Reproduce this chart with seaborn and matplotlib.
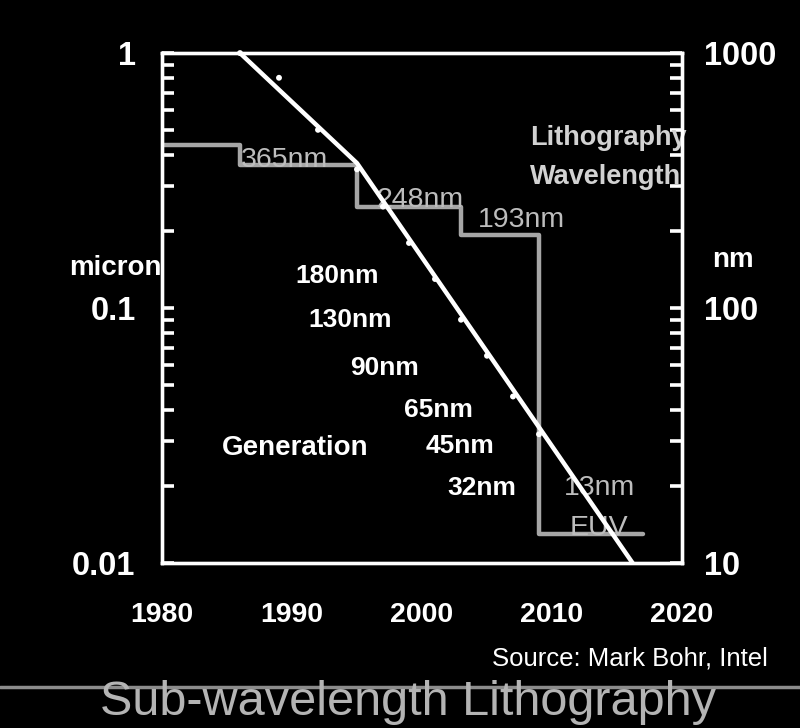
import matplotlib
matplotlib.use("Agg")
import matplotlib.pyplot as plt
import seaborn as sns
from matplotlib.ticker import LogLocator, NullFormatter
from matplotlib.lines import Line2D

# ---------------- data ----------------
fit_years = [1986, 1995, 2016.2]
fit_micron = [1.0, 0.37, 0.01]

gen_years = [1986, 1989, 1992, 1995, 1997, 1999, 2001, 2003, 2005, 2007, 2009]
gen_micron = [1.0, 0.8, 0.5, 0.35, 0.25, 0.18, 0.13, 0.09, 0.065, 0.045, 0.032]

wl_years = [1980, 1986, 1995, 2003, 2009, 2017]
wl_nm = [436, 365, 248, 193, 13, 13]

gen_labels = ["180nm", "130nm", "90nm", "65nm", "45nm", "32nm"]
wl_labels = ["365nm", "248nm", "193nm", "13nm", "EUV"]

x_ticks = [1980, 1990, 2000, 2010, 2020]
x_tick_labels = ["1980", "1990", "2000", "2010", "2020"]
left_ticks = [0.01, 0.1, 1]
left_tick_labels = ["0.01", "0.1", "1"]
right_ticks = [10, 100, 1000]
right_tick_labels = ["10", "100", "1000"]

# ---------------- layout ----------------
gen_pos = [(0.3365, 0.549), (0.3615, 0.4627), (0.4288, 0.3686),
           (0.5308, 0.2863), (0.5731, 0.2157), (0.6154, 0.1333)]
wl_pos = [(0.2365, 0.7765), (0.4962, 0.698), (0.6904, 0.6588),
          (0.8423, 0.1333), (0.8404, 0.0549)]

sns.set_theme(style="dark", rc={
    "figure.facecolor": "black",
    "axes.facecolor": "black",
    "savefig.facecolor": "black",
    "text.color": "white",
    "axes.edgecolor": "white",
    "xtick.color": "white",
    "ytick.color": "white",
    "axes.grid": False,
})
NARROW = ["Liberation Sans Narrow", "Liberation Sans", "DejaVu Sans"]
SANS = ["Liberation Sans", "DejaVu Sans"]
plt.rcParams["font.family"] = NARROW

fig = plt.figure(figsize=(8, 7.28), dpi=100)
ax = fig.add_axes([0.2025, 0.2266, 0.65, 0.7005])
ax.set_yscale("log")
ax.set_xlim(1980, 2020)
ax.set_ylim(0.01, 1)
ax2 = ax.twinx()
ax2.set_yscale("log")
ax2.set_ylim(10, 1000)
ax.set_zorder(ax2.get_zorder() + 1)
ax.patch.set_visible(False)

# wavelength steps
sns.lineplot(x=wl_years, y=wl_nm, ax=ax2, drawstyle="steps-post",
             color="#a6a6a6", lw=3.2)
# generation fit line and points
sns.lineplot(x=fit_years, y=fit_micron, ax=ax, color="white", lw=3.2)
sns.scatterplot(x=gen_years, y=gen_micron, ax=ax, color="white", s=18,
                edgecolor="none", clip_on=False, zorder=5)

# axes styling
for a in (ax, ax2):
    for s in a.spines.values():
        s.set_color("white")
        s.set_linewidth(2.4)
    a.grid(False)
    a.set_xlabel("")
    a.set_ylabel("")

ax.set_xticks(x_ticks, x_tick_labels)
ax.tick_params(axis="x", direction="in", length=9, width=1.8, pad=28,
               labelsize=20.5, colors="white", top=False)
for l in ax.get_xticklabels():
    l.set_fontweight("bold")
    l.set_fontfamily(NARROW)

ax.set_yticks(left_ticks, left_tick_labels)
ax.yaxis.set_minor_locator(LogLocator(base=10, subs=range(2, 10)))
ax.yaxis.set_minor_formatter(NullFormatter())
ax.tick_params(axis="y", which="both", direction="in", length=8.5, width=2.6,
               pad=19, labelsize=23.5, colors="white", right=False)
for l in ax.get_yticklabels():
    l.set_fontweight("bold")
    l.set_fontfamily(NARROW)

ax2.set_yticks(right_ticks, right_tick_labels)
ax2.yaxis.set_minor_locator(LogLocator(base=10, subs=range(2, 10)))
ax2.yaxis.set_minor_formatter(NullFormatter())
ax2.tick_params(axis="y", which="both", direction="in", length=8.5, width=2.6,
                pad=16, labelsize=23.5, colors="white")
for l in ax2.get_yticklabels():
    l.set_fontweight("bold")
    l.set_fontfamily(NARROW)

# generation labels
for lab, (px, py) in zip(gen_labels, gen_pos):
    ax.text(px, py, lab, transform=ax.transAxes, ha="center", va="baseline",
            fontsize=19, fontweight="bold", family=SANS, color="white", zorder=1)
ax.text(0.2558, 0.2118, "Generation", transform=ax.transAxes, ha="center",
        va="baseline", fontsize=20, fontweight="bold", family=SANS, color="white")

# wavelength labels
for lab, (px, py) in zip(wl_labels, wl_pos):
    ax2.text(px, py, lab, transform=ax2.transAxes, ha="center", va="baseline",
             fontsize=20.5, family=SANS, color="#bdbdbd")
ax2.text(0.7077, 0.8196, "Lithography", transform=ax2.transAxes, ha="left",
         va="baseline", fontsize=19.5, fontweight="bold", family=SANS, color="#d2d2d2")
ax2.text(0.7077, 0.7431, "Wavelength", transform=ax2.transAxes, ha="left",
         va="baseline", fontsize=19.5, fontweight="bold", family=SANS, color="#d2d2d2")

# axis unit labels
fig.text(0.2025, 0.6223, "micron", ha="right", va="baseline", fontsize=20,
         fontweight="bold", family=NARROW, color="white")
fig.text(0.916, 0.6332, "nm", ha="center", va="baseline", fontsize=20,
         fontweight="bold", family=NARROW, color="white")

# source and title
fig.text(0.96, 0.0865, "Source: Mark Bohr, Intel", ha="right", va="baseline",
         fontsize=18.5, family=NARROW, color="white")
fig.add_artist(Line2D([0, 1], [0.057, 0.057], transform=fig.transFigure,
                      color="#8c8c8c", lw=2.5, zorder=1))
fig.text(0.51, 0.018, "Sub-wavelength Lithography", ha="center", va="baseline",
         fontsize=35, family=NARROW, color="#b4b4b4", zorder=2)

fig.savefig("out.png", dpi=100, facecolor="black")
